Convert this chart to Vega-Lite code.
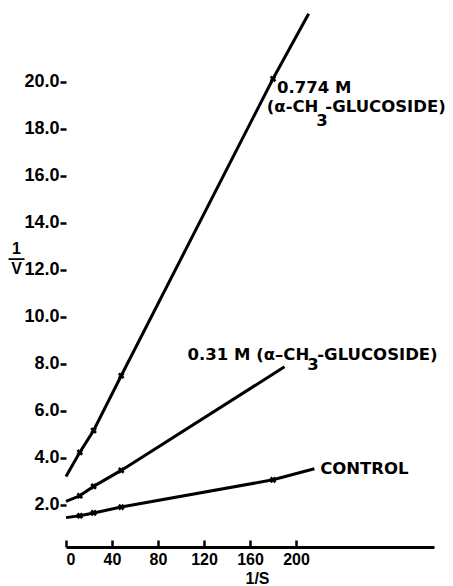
{
  "$schema": "https://vega.github.io/schema/vega-lite/v6.json",
  "autosize": {"type": "none"},
  "width": 368,
  "height": 545,
  "padding": {"left": 66, "top": 2, "right": 19, "bottom": 39},
  "background": "white",
  "config": {
    "view": {"stroke": null},
    "font": "Liberation Sans",
    "axis": {"labelFont": "Liberation Sans", "labelFontWeight": "bold", "labelColor": "black", "titleColor": "black", "titleFont": "Liberation Sans", "titleFontWeight": "bold", "grid": false, "tickColor": "black", "domainColor": "black"}
  },
  "datasets": {
    "lines": [
      {"series": "0.774", "x": 0, "y": 3.2},
      {"series": "0.774", "x": 12, "y": 4.23},
      {"series": "0.774", "x": 24, "y": 5.16},
      {"series": "0.774", "x": 48, "y": 7.49},
      {"series": "0.774", "x": 180, "y": 20.13},
      {"series": "0.774", "x": 211, "y": 22.9},
      {"series": "0.31", "x": 0, "y": 2.14},
      {"series": "0.31", "x": 12, "y": 2.38},
      {"series": "0.31", "x": 24, "y": 2.78},
      {"series": "0.31", "x": 48, "y": 3.46},
      {"series": "0.31", "x": 190, "y": 7.87},
      {"series": "control", "x": 0, "y": 1.45},
      {"series": "control", "x": 12, "y": 1.53},
      {"series": "control", "x": 24, "y": 1.65},
      {"series": "control", "x": 48, "y": 1.9},
      {"series": "control", "x": 180, "y": 3.06},
      {"series": "control", "x": 216, "y": 3.53}
    ],
    "points": [
      {"series": "0.774", "x": 12, "y": 4.23},
      {"series": "0.774", "x": 24, "y": 5.16},
      {"series": "0.774", "x": 48, "y": 7.49},
      {"series": "0.774", "x": 180, "y": 20.13},
      {"series": "0.31", "x": 12, "y": 2.38},
      {"series": "0.31", "x": 24, "y": 2.78},
      {"series": "0.31", "x": 48, "y": 3.46},
      {"series": "control", "x": 12, "y": 1.53},
      {"series": "control", "x": 24, "y": 1.65},
      {"series": "control", "x": 48, "y": 1.9},
      {"series": "control", "x": 180, "y": 3.06}
    ],
    "labelsLeft": [
      {"x": 183.5, "y": 19.72, "text": "0.774 M"},
      {"x": 217.5, "y": 18.34, "text": "3"},
      {"x": 225.5, "y": 18.94, "text": "-GLUCOSIDE)"},
      {"x": 209.8, "y": 7.96, "text": "3"},
      {"x": 218.5, "y": 8.38, "text": "-GLUCOSIDE)"},
      {"x": 221, "y": 3.5, "text": "CONTROL"}
    ],
    "labelsRight": [
      {"x": 219.5, "y": 18.94, "text": "(α-CH"},
      {"x": 211.5, "y": 8.38, "text": "0.31  M (α–CH"}
    ]
  },
  "layer": [
    {
      "mark": {"type": "rule", "strokeWidth": 3, "color": "black"},
      "encoding": {
        "x": {"datum": 0, "type": "quantitative", "scale": {"domain": [0, 320]}},
        "y": {"datum": 0.2, "type": "quantitative", "scale": {"domain": [0.2, 23.4]}},
        "y2": {"datum": 21.8}
      }
    },
    {
      "data": {"name": "lines"},
      "mark": {"type": "line", "strokeWidth": 3, "color": "black", "clip": false},
      "encoding": {
        "x": {"field": "x", "type": "quantitative", "scale": {"domain": [0, 320], "nice": false},
          "axis": {"values": [0, 20, 40, 60, 80, 100, 120, 140, 160, 180, 200], "labelExpr": "datum.value % 40 == 0 ? datum.label : (datum.value == 60 ? '.' : '')", "labelFontSize": 16, "tickSize": -7, "tickWidth": 2.5, "domainWidth": 3, "labelPadding": 11, "title": "1/S", "titleFontSize": 16, "titleX": 191, "titleY": 31, "titleBaseline": "middle"}},
        "y": {"field": "y", "type": "quantitative", "scale": {"domain": [0.2, 23.4], "nice": false},
          "axis": {"values": [2, 4, 6, 8, 10, 12, 14, 16, 18, 20], "format": ".1f", "labelFontSize": 18, "tickSize": 6, "tickWidth": 2.5, "domain": false, "labelPadding": 1, "title": ["1", "—", "V"], "titleAngle": 0, "titleFontSize": 16, "titleLineHeight": 10, "titleX": -50, "titleY": 238, "titleAlign": "center", "titleBaseline": "top"}},
        "detail": {"field": "series"}
      }
    },
    {
      "data": {"name": "points"},
      "mark": {"type": "point", "shape": "cross", "angle": 45, "filled": true, "color": "black", "size": 45, "opacity": 1},
      "encoding": {
        "x": {"field": "x", "type": "quantitative"},
        "y": {"field": "y", "type": "quantitative"}
      }
    },
    {
      "data": {"name": "labelsLeft"},
      "mark": {"type": "text", "align": "left", "baseline": "middle", "fontSize": 16.5, "fontWeight": "bold", "font": "DejaVu Sans", "color": "black"},
      "encoding": {
        "x": {"field": "x", "type": "quantitative"},
        "y": {"field": "y", "type": "quantitative"},
        "text": {"field": "text"}
      }
    },
    {
      "data": {"name": "labelsRight"},
      "mark": {"type": "text", "align": "right", "baseline": "middle", "fontSize": 16.5, "fontWeight": "bold", "font": "DejaVu Sans", "color": "black"},
      "encoding": {
        "x": {"field": "x", "type": "quantitative"},
        "y": {"field": "y", "type": "quantitative"},
        "text": {"field": "text"}
      }
    }
  ]
}
